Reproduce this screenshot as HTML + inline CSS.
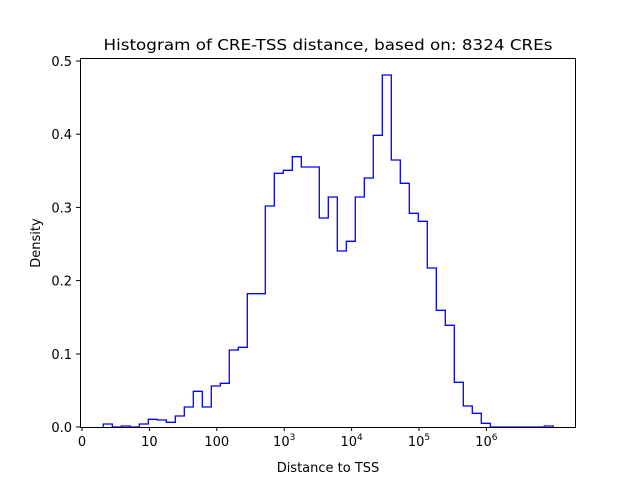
<!DOCTYPE html>
<html><head><meta charset="utf-8"><style>body{margin:0;background:#fff}svg{display:block}text{font-family:"DejaVu Sans","Liberation Sans",sans-serif;fill:#000}</style></head>
<body>
<svg width="640" height="480" viewBox="0 0 640 480" xmlns="http://www.w3.org/2000/svg">
<rect width="640" height="480" fill="#fff"/>
<path fill="none" stroke="#0000ff" stroke-width="1.3" d="M103.3,427 V424 H112.3 V427 H121.3 V426 H130.3 V427 H139.3 V424 H148.3 V419.3 H157.3 V420 H166.3 V422.3 H175.3 V416 H184.3 V407 H193.3 V391.3 H202.3 V407 H211.3 V386 H220.3 V383.3 H229.3 V350 H238.3 V347.3 H247.3 V293.7 H265.3 V206 H274.3 V173.3 H283.3 V170.3 H292.3 V156.7 H301.3 V167 H319.3 V218 H328.3 V197 H337.3 V251 H346.3 V241.3 H355.3 V197 H364.3 V178 H373.3 V135.3 H382.3 V75 H391.3 V160 H400.3 V183.3 H409.3 V213.3 H418.3 V221.3 H427.3 V268 H436.3 V310.3 H445.3 V325.3 H454.3 V382.3 H463.3 V406 H472.3 V413.3 H481.3 V423.3 H490.3 V427 H544.3 V426 H553.3 V427"/>
<rect x="80.5" y="58.5" width="495" height="369" fill="none" stroke="#000" stroke-width="1"/>
<g stroke="#000" stroke-width="1">
<line x1="82" y1="427" x2="82" y2="431"/><line x1="149.4" y1="427" x2="149.4" y2="431"/><line x1="216.8" y1="427" x2="216.8" y2="431"/><line x1="284.2" y1="427" x2="284.2" y2="431"/><line x1="351.6" y1="427" x2="351.6" y2="431"/><line x1="419" y1="427" x2="419" y2="431"/><line x1="486.4" y1="427" x2="486.4" y2="431"/>
<line x1="76" y1="427" x2="80" y2="427"/><line x1="76" y1="354" x2="80" y2="354"/><line x1="76" y1="280.6" x2="80" y2="280.6"/><line x1="76" y1="207.4" x2="80" y2="207.4"/><line x1="76" y1="134.2" x2="80" y2="134.2"/><line x1="76" y1="61" x2="80" y2="61"/>
</g>
<g font-size="13" text-anchor="middle">
<text x="82" y="446">0</text><text x="149.4" y="446">10</text><text x="216.8" y="446">100</text>
<text x="284.2" y="446">10<tspan font-size="9" dy="-6">3</tspan></text>
<text x="351.6" y="446">10<tspan font-size="9" dy="-6">4</tspan></text>
<text x="419" y="446">10<tspan font-size="9" dy="-6">5</tspan></text>
<text x="486.4" y="446">10<tspan font-size="9" dy="-6">6</tspan></text>
</g>
<g font-size="13" text-anchor="end">
<text x="72" y="432">0.0</text><text x="72" y="359">0.1</text><text x="72" y="285.6">0.2</text><text x="72" y="212.4">0.3</text><text x="72" y="139.2">0.4</text><text x="72" y="66">0.5</text>
</g>
<text x="328" y="472" font-size="13" text-anchor="middle">Distance to TSS</text>
<text transform="translate(40,243) rotate(-90)" font-size="13" text-anchor="middle">Density</text>
<text x="328" y="50" font-size="15.5" text-anchor="middle" textLength="449" lengthAdjust="spacingAndGlyphs">Histogram of CRE-TSS distance, based on: 8324 CREs</text>
</svg>
</body></html>
